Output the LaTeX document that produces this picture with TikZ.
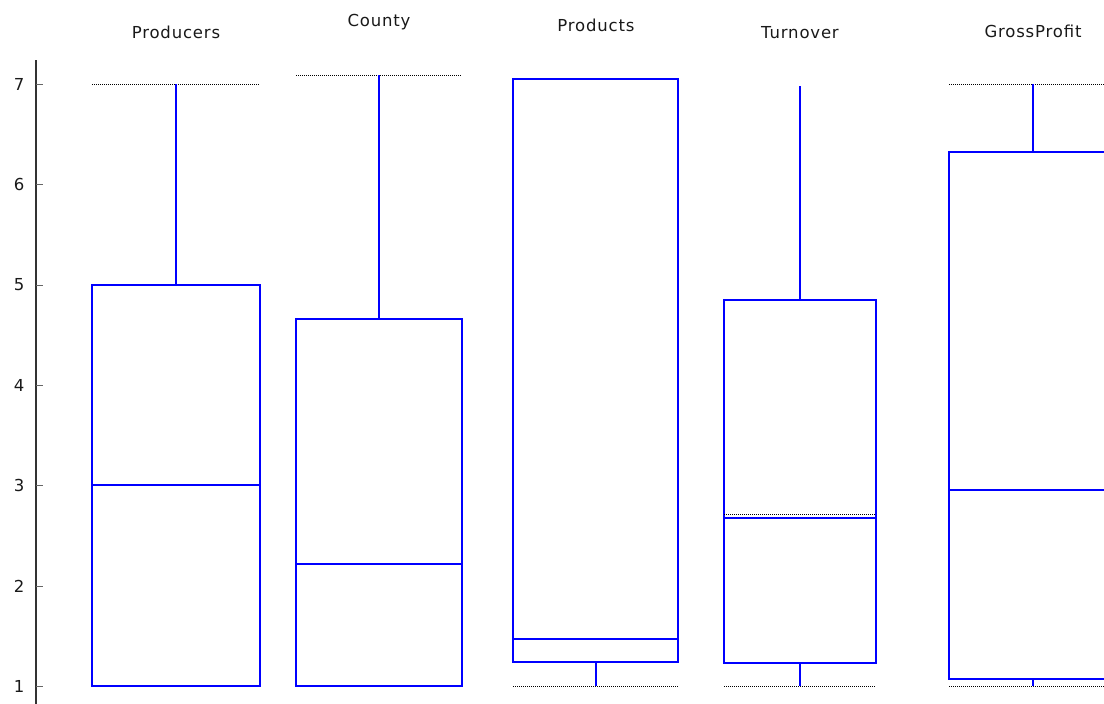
\documentclass[tikz,border=0pt]{standalone}
\usepackage{fontspec}
\setmainfont{DejaVu Sans}[LetterSpace=5]
\begin{document}
\begin{tikzpicture}[x=1pt,y=-1pt,
  boxline/.style={draw=blue,line width=2pt},
  medline/.style={draw=blue,line width=1.4pt},
  dotline/.style={draw=black,line width=1pt,dash pattern=on 1pt off 1pt},
  lbl/.style={font=\fontsize{16.5}{18}\selectfont,inner sep=0pt,text=black!90},
  tick/.style={font=\fontsize{16.5}{18}\selectfont,inner sep=0pt,text=black!90}]
\useasboundingbox (0,0) rectangle (1104,704);
\clip (0,0) rectangle (1104,704);
% axis
\draw[line width=2pt,black!80] (36,60) -- (36,704);
\foreach \v/\yy in {1/686,2/586,3/485,4/385,5/285,6/184,7/84}{
  \draw[line width=1pt,black!60] (36,\yy) -- (43,\yy);
  \node[tick] (t\v) at (19,\yy) {\v};
}
% Producers
\draw[dotline] (92,84) -- (260,84);
\draw[dotline] (92,686) -- (260,686);
\draw[boxline] (176,84) -- (176,285);
\draw[boxline] (92,285) rectangle (260,686);
\draw[medline] (92,484.8) -- (260,484.8);
\node[lbl] (l1) at (176,32) {Producers};
% County
\draw[dotline] (296,75) -- (462,75);
\draw[boxline] (379,75) -- (379,319);
\draw[boxline] (296,319) rectangle (462,686);
\draw[medline] (296,564) -- (462,564);
\node[lbl] (l2) at (379,22) {County};
% Products
\draw[dotline] (513,686) -- (678,686);
\draw[boxline] (596,662) -- (596,686);
\draw[boxline] (513,79) rectangle (678,662);
\draw[medline] (513,639) -- (678,639);
\node[lbl] (l3) at (596,25) {Products};
% Turnover
\draw[dotline] (724,686) -- (876,686);
\draw[boxline] (800,86) -- (800,300);
\draw[boxline] (800,663) -- (800,686);
\draw[boxline] (724,300) rectangle (876,663);
\draw[dotline] (724,514) -- (876,514);
\draw[medline] (724,518) -- (876,518);
\node[lbl] (l4) at (800,33) {Turnover};
% GrossProfit
\draw[dotline] (949,84) -- (1104,84);
\draw[dotline] (949,686) -- (1104,686);
\draw[boxline] (1033,84) -- (1033,152);
\draw[boxline] (1033,679) -- (1033,686);
\draw[boxline] (949,152) rectangle (1120,679);
\draw[medline] (949,490) -- (1104,490);
\node[lbl] (l5) at (1033,31) {GrossProfit};
\end{tikzpicture}
\end{document}
